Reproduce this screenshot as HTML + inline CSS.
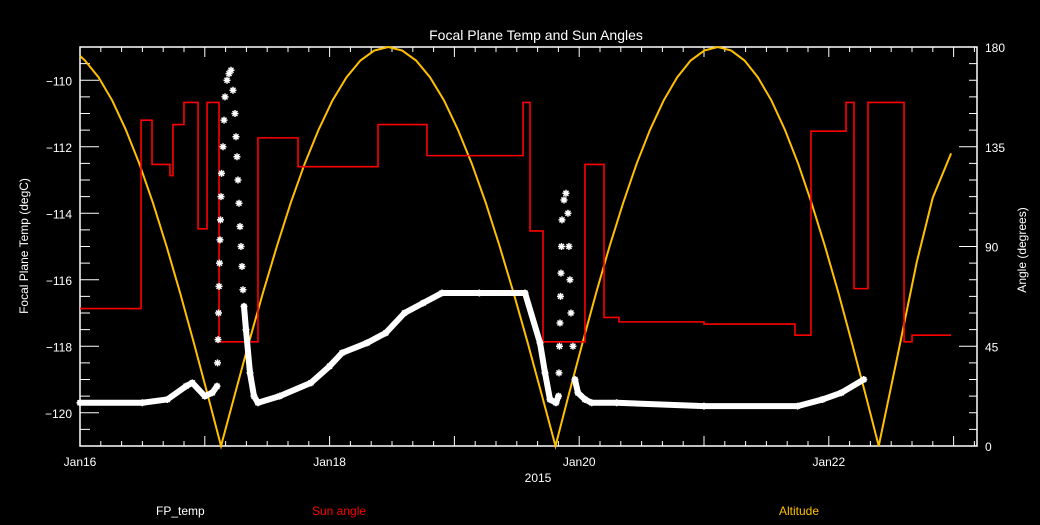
<!DOCTYPE html>
<html><head><meta charset="utf-8"><style>
html,body{margin:0;padding:0;background:#000;}
svg text{font-family:"Liberation Sans",sans-serif;}
</style></head><body>
<svg id="chart" width="1040" height="520" viewBox="0 0 1040 520" xmlns="http://www.w3.org/2000/svg">
<rect width="1040" height="520" fill="#000"/>
<text x="536" y="40" fill="#fff" font-size="14" text-anchor="middle">Focal Plane Temp and Sun Angles</text>
<g id="axes"></g>
<g id="series"></g>
<text transform="translate(28,246) rotate(-90)" fill="#fff" font-size="12" text-anchor="middle">Focal Plane Temp (degC)</text>
<text transform="translate(1026,250) rotate(-90)" fill="#fff" font-size="12" text-anchor="middle">Angle (degrees)</text>
<text x="538" y="482" fill="#fff" font-size="12" text-anchor="middle">2015</text>
<text x="156" y="515" fill="#fff" font-size="12">FP_temp</text>
<text x="312" y="515" fill="#ff0000" font-size="12">Sun angle</text>
<text x="779" y="515" fill="#ffc000" font-size="12">Altitude</text>
</svg>
<script>
// x ticks (days since Jan16)
const dayTicks = [0, 2, 4, 6];
const dayLabels = ["Jan16", "Jan18", "Jan20", "Jan22"];
const leftTicks = [-120, -118, -116, -114, -112, -110];
const rightTicks = [0, 45, 90, 135, 180];
// Altitude (deg) series
const altT = [0,0.04,0.149,0.258,0.367,0.476,0.585,0.694,0.803,0.912,1.021,1.13,
1.242,1.353,1.465,1.577,1.688,1.80,1.912,2.023,2.135,2.247,2.358,2.47,
2.582,2.693,2.805,2.917,3.028,3.14,3.252,3.363,3.475,3.587,3.698,3.81,
3.918,4.027,4.135,4.243,4.352,4.46,4.568,4.677,4.785,4.893,5.002,5.11,
5.218,5.325,5.432,5.54,5.648,5.755,5.862,5.97,6.078,6.185,6.293,6.40,
6.552,6.705,6.833,6.98];
const altV = [176,173.9,166.3,155.9,142.7,127.3,109.6,90,68.9,46.6,23.5,0,
23.5,46.6,68.9,90,109.6,127.3,142.7,155.9,166.3,173.9,178.4,180,
178.4,173.9,166.3,155.9,142.7,127.3,109.6,90,68.9,46.6,23.5,0,
23.5,46.6,68.9,90,109.6,127.3,142.7,155.9,166.3,173.9,178.4,180,
178.4,173.9,166.3,155.9,142.7,127.3,109.6,90,68.9,46.6,23.5,0,
41,83,112,132];
// Sun angle (deg) step series
const sunT = [0,0.489,0.577,0.721,0.745,0.833,0.946,1.018,1.114,1.426,1.747,2.388,2.780,3.550,3.606,3.710,4.046,4.199,4.319,5.0,5.729,5.857,6.138,6.202,6.314,6.603,6.667,6.979];
const sunV = [62,147,127,122,145,155,98,155,47,139,126,145,131,155,97,47,127,58,56,55,50,142,155,71,155,47,50,50];
// Focal plane temp (degC)
const fpT = [0,0.5,0.7,0.85,0.9,1.0,1.06,1.098,1.102,1.106,1.110,1.114,1.118,1.122,1.126,1.130,1.134,1.146,1.154,1.162,1.178,1.194,1.210,1.226,1.242,1.250,1.258,1.266,1.274,1.282,1.290,1.298,1.306,1.314,1.330,1.362,1.394,1.426,
1.6,1.85,2.0,2.1,2.3,2.45,2.6,2.75,2.9,3.2,3.566,3.686,3.726,3.766,3.814,3.834,3.838,3.842,3.846,3.850,3.854,3.858,3.862,3.878,3.894,3.910,3.918,3.926,3.934,3.950,3.966,3.990,4.046,4.1,4.3,5.0,5.75,5.95,6.1,6.28];
const fpV = [-119.7,-119.7,-119.6,-119.2,-119.1,-119.5,-119.4,-119.2,-118.5,-117.8,-117.0,-116.2,-115.5,-114.8,-114.2,-113.5,-112.8,-112.0,-111.2,-110.5,-110.0,-109.8,-109.7,-110.3,-111.0,-111.7,-112.3,-113.0,-113.7,-114.4,-115.0,-115.6,-116.3,-116.8,-117.5,-118.8,-119.5,-119.7,
-119.5,-119.1,-118.6,-118.2,-117.9,-117.6,-117.0,-116.7,-116.4,-116.4,-116.4,-117.9,-118.8,-119.6,-119.7,-119.5,-118.8,-118.0,-117.3,-116.5,-115.8,-115.0,-114.2,-113.6,-113.4,-114.0,-115.0,-116.0,-117.0,-118.0,-119.0,-119.4,-119.6,-119.7,-119.7,-119.8,-119.8,-119.6,-119.4,-119.0];

const L=80,R=977,T=47,B=446;
const xS=t=>L+t*124.8;
const yL=v=>T+(-109-v)*(B-T)/12;
const yR=a=>B-a*(B-T)/180;
const NS="http://www.w3.org/2000/svg";
function mk(tag,attrs,parent){const e=document.createElementNS(NS,tag);for(const k in attrs)e.setAttribute(k,attrs[k]);parent.appendChild(e);return e;}
const ax=document.getElementById('axes'), se=document.getElementById('series');
const frame=mk('rect',{x:L,y:T,width:R-L,height:B-T,fill:'none',stroke:'#fff','stroke-width':1.5},ax);


for(let k=0;xS(k/6)<=R;k++){const x=xS(k/6);const len=(k%6===0)?10:5;
 const t1=mk('line',{x1:x,y1:B,x2:x,y2:B-len,stroke:'#fff'},ax);
 
 
 const t2=mk('line',{x1:x,y1:T,x2:x,y2:T+len,stroke:'#fff'},ax);
 
 }
dayTicks.forEach((d,i)=>{const tx=mk('text',{x:xS(d),y:466,fill:'#fff','font-size':12,'text-anchor':'middle'},ax);tx.textContent=dayLabels[i];
 
 });
for(let v=-121;v<=-109.001;v+=0.5){const y=yL(v);const major=Math.abs(v%2)===0;const len=major?19:10;
 const t=mk('line',{x1:L,y1:y,x2:L+len,y2:y,stroke:'#fff'},ax);
 
 }
leftTicks.forEach(v=>{const tx=mk('text',{x:72,y:yL(v)+5,fill:'#fff','font-size':12,'text-anchor':'end'},ax);tx.textContent='\u2212'+Math.abs(v);
 
 });
for(let a=0;a<=180;a+=7.5){const y=yR(a);const len=(a%45===0)?18:8;
 const t=mk('line',{x1:R,y1:y,x2:R-len,y2:y,stroke:'#fff'},ax);
 
 }
rightTicks.forEach(a=>{const tx=mk('text',{x:985,y:yR(a)+5,fill:'#fff','font-size':12},ax);tx.textContent=a;
 
 });
// altitude
const ap=mk('polyline',{points:altT.map((t,i)=>xS(t)+','+yR(altV[i])).join(' '),fill:'none',stroke:'#ffc000','stroke-width':2},se);


// sun angle step
let pts=[];for(let i=0;i<sunT.length;i++){if(i>0)pts.push(xS(sunT[i])+','+yR(sunV[i-1]));pts.push(xS(sunT[i])+','+yR(sunV[i]));}
const sp=mk('polyline',{points:pts.join(' '),fill:'none',stroke:'#ff0000','stroke-width':1.6},se);


// fp temp: continuous band where slowly varying, star markers only during fast spikes
for(let i=1;i<fpT.length;i++){
 const slope=Math.abs(fpV[i]-fpV[i-1])/Math.max(1e-6,(fpT[i]-fpT[i-1]));
 const lo=Math.min(fpV[i],fpV[i-1]);
 const ok = (slope<=50 && lo<-116.3);
 if(!ok) continue;
 const seg=mk('line',{x1:xS(fpT[i-1]),y1:yL(fpV[i-1]),x2:xS(fpT[i]),y2:yL(fpV[i]),stroke:'#fff','stroke-width':6,'stroke-linecap':'round'},se);
 
 
}
fpT.forEach((t,i)=>{const cx=xS(t), cy=yL(fpV[i]);
 const s=mk('path',{d:`M${cx-3.5},${cy}H${cx+3.5}M${cx},${cy-3.5}V${cy+3.5}M${cx-2.5},${cy-2.5}L${cx+2.5},${cy+2.5}M${cx-2.5},${cy+2.5}L${cx+2.5},${cy-2.5}`,stroke:'#fff','stroke-width':1.5,fill:'none'},se);
 
 });
</script>
</body></html>
